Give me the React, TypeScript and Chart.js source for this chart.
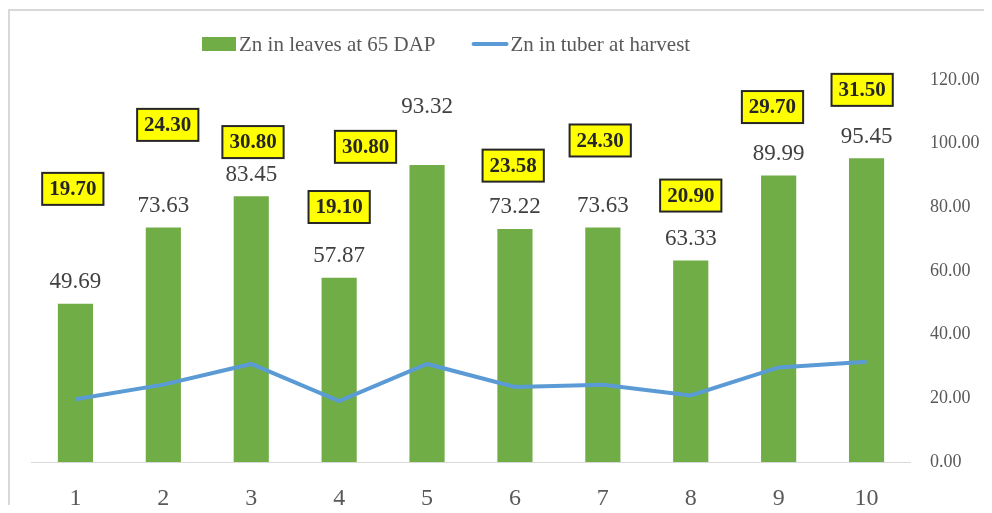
import React, { useEffect, useRef } from "react";
import { Chart, registerables } from "chart.js";

Chart.register(...registerables);

const categories = ["1", "2", "3", "4", "5", "6", "7", "8", "9", "10"];
const leafZn = [49.69, 73.63, 83.45, 57.87, 93.32, 73.22, 73.63, 63.33, 89.99, 95.45];
const tuberZn = [19.7, 24.3, 30.8, 19.1, 30.8, 23.58, 24.3, 20.9, 29.7, 31.5];
const leafLabel = "Zn in leaves at 65 DAP";
const tuberLabel = "Zn in tuber at harvest";
const yMin = 0;
const yMax = 120;
const yStep = 20;

// placement of the boxed tuber labels (axis units / category offsets)
const tuberLabelY = [85.8, 105.9, 100.5, 80.1, 99.0, 93.1, 101.0, 83.7, 111.5, 116.9];
const tuberLabelDx = [-0.03, 0.05, 0.02, 0, -0.7, -0.02, -0.03, 0, -0.07, -0.05];
const leafLabelLift = [0, 0, 0, 0, 36, 0, 0, 0, 0, 0];

const FONT = "'Liberation Serif', 'Times New Roman', serif";
const GREEN = "#70AD47";
const BLUE = "#5B9BD5";

const labelsPlugin = {
  id: "customLabels",
  afterDatasetsDraw(chart: any) {
    const ctx = chart.ctx;
    const xs = chart.scales.x;
    const ys = chart.scales.y;
    ctx.save();
    // bar value labels
    const barMeta = chart.getDatasetMeta(1);
    ctx.font = `23px ${FONT}`;
    ctx.fillStyle = "#404040";
    ctx.textAlign = "center";
    ctx.textBaseline = "middle";
    barMeta.data.forEach((bar: any, i: number) => {
      ctx.fillText(leafZn[i].toFixed(2), bar.x, bar.y - 21.5 - leafLabelLift[i]);
    });
    // boxed tuber labels
    ctx.font = `bold 21px ${FONT}`;
    tuberZn.forEach((v, i) => {
      const txt = v.toFixed(2);
      const cx = xs.getPixelForValue(i + tuberLabelDx[i]);
      const cy = ys.getPixelForValue(tuberLabelY[i]);
      const w = ctx.measureText(txt).width + 14;
      const h = 32;
      ctx.fillStyle = "#FFFF00";
      ctx.fillRect(cx - w / 2, cy - h / 2, w, h);
      ctx.lineWidth = 2;
      ctx.strokeStyle = "#262626";
      ctx.strokeRect(cx - w / 2, cy - h / 2, w, h);
      ctx.fillStyle = "#262626";
      ctx.fillText(txt, cx, cy + 1);
    });
    ctx.restore();
  },
  afterDraw(chart: any) {
    const ctx = chart.ctx;
    ctx.save();
    ctx.font = `21px ${FONT}`;
    ctx.fillStyle = "#595959";
    ctx.textAlign = "left";
    ctx.textBaseline = "middle";
    const cy = 36;
    let x = 194;
    ctx.fillStyle = GREEN;
    ctx.fillRect(x, cy - 7, 34, 14);
    x += 37;
    ctx.fillStyle = "#595959";
    ctx.fillText(leafLabel, x, cy + 1);
    x += ctx.measureText(leafLabel).width + 36;
    ctx.strokeStyle = BLUE;
    ctx.lineWidth = 4;
    ctx.lineCap = "round";
    ctx.beginPath();
    ctx.moveTo(x + 2, cy);
    ctx.lineTo(x + 35, cy);
    ctx.stroke();
    x += 39;
    ctx.fillText(tuberLabel, x, cy + 1);
    ctx.restore();
  },
};

export default function App() {
  const ref = useRef<HTMLCanvasElement | null>(null);
  useEffect(() => {
    document.documentElement.style.overflow = "hidden";
    document.body.style.overflow = "hidden";
    Chart.defaults.font.family = FONT;
    const chart = new Chart(ref.current as HTMLCanvasElement, {
      type: "bar",
      data: {
        labels: categories,
        datasets: [
          {
            type: "line",
            label: tuberLabel,
            data: tuberZn,
            borderColor: BLUE,
            backgroundColor: BLUE,
            borderWidth: 4,
            pointRadius: 0,
            tension: 0,
            yAxisID: "y",
            order: 1,
          } as any,
          {
            type: "bar",
            label: leafLabel,
            data: leafZn,
            backgroundColor: GREEN,
            barPercentage: 0.4,
            categoryPercentage: 1,
            yAxisID: "y",
            order: 2,
          },
        ],
      },
      options: {
        animation: false,
        responsive: true,
        maintainAspectRatio: false,
        layout: { padding: { left: 23.5, top: 72, right: 0, bottom: 0 } },
        plugins: {
          legend: { display: false },
          tooltip: { enabled: false },
        },
        scales: {
          x: {
            grid: { display: false, drawTicks: false },
            border: { display: true, color: "#d9d9d9", width: 1 },
            ticks: {
              color: "#595959",
              font: { size: 24, family: FONT },
              padding: 22,
              maxRotation: 0,
            },
            afterFit(scale: any) {
              scale.height = 51;
            },
          },
          y: {
            position: "right",
            min: yMin,
            max: yMax,
            grid: { display: false, drawTicks: false },
            border: { display: false },
            ticks: {
              stepSize: yStep,
              color: "#595959",
              font: { size: 18, family: FONT },
              padding: 19.5,
              callback: (v: any) => Number(v).toFixed(2),
            },
            afterFit(scale: any) {
              scale.width = 73.5;
            },
          },
        },
      },
      plugins: [labelsPlugin],
    });
    return () => chart.destroy();
  }, []);

  return (
    <div style={{ position: "relative", width: 976, height: 505, overflow: "hidden", marginBottom: -8 }}>
      <div
        style={{
          position: "absolute",
          left: 0,
          top: 1,
          width: 1200,
          height: 800,
          border: "2px solid #d9d9d9",
          boxSizing: "border-box",
        }}
      />
      <div style={{ position: "absolute", left: 0, top: 0, width: 976, height: 505 }}>
        <canvas ref={ref} />
      </div>
    </div>
  );
}
